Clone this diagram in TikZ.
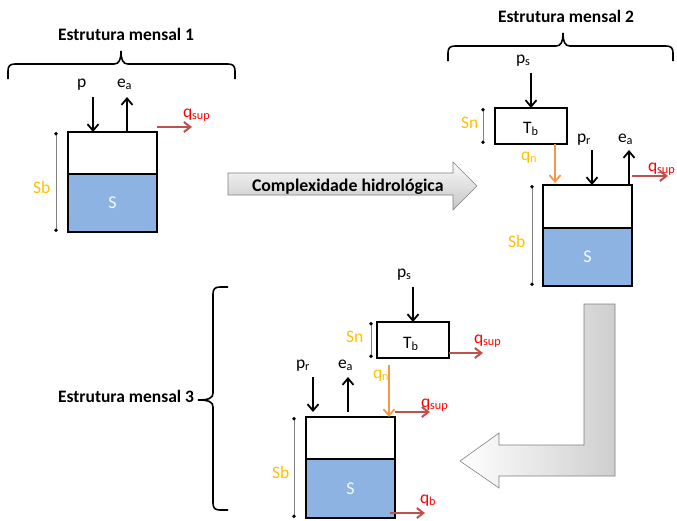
\documentclass[tikz,border=0pt]{standalone}
\usepackage{fontspec}
\setmainfont{Carlito}
\usetikzlibrary{arrows.meta}
\definecolor{lblue}{HTML}{8DB3E2}
\definecolor{orlab}{HTML}{FFC000}
\definecolor{orarr}{HTML}{F79646}
\definecolor{redarr}{HTML}{C0504D}
\definecolor{redlab}{HTML}{FF0000}
\definecolor{dimgray}{HTML}{808080}
\begin{document}
\begin{tikzpicture}[x=1pt,y=-1pt,
  every node/.style={inner sep=0pt, outer sep=0pt},
  lbl/.style={anchor=base west, font=\fontsize{17.5}{19}\selectfont},
  ttl/.style={anchor=base west, font=\bfseries\fontsize{17.5}{19}\selectfont},
  olbl/.style={lbl, text=orlab},
  rlbl/.style={lbl, text=redlab},
  topbox/.style={draw, line width=1.8pt, fill=white, anchor=north west, minimum width=89pt},
  sbox/.style={draw, line width=1.8pt, fill=lblue, anchor=north west, minimum width=89pt,
     font=\fontsize{18}{20}\selectfont, text=white!92!lblue},
  tbbox/.style={draw, line width=1.8pt, fill=white, anchor=north west, minimum width=72pt, minimum height=36pt},
  blk/.style={line width=1.8pt, -{Straight Barb[length=6.5pt,width=11pt,line width=1.8pt]}},
  oarr/.style={blk, draw=orarr},
  rarr/.style={line width=2pt, draw=redarr, -{Straight Barb[length=6.5pt,width=10pt,line width=2pt]}},
  dimline/.style={draw=dimgray, line width=0.8pt, {Circle[black,length=3.5pt]}-{Circle[black,length=3.5pt]}},
  brc/.style={draw, line width=1.6pt},
]
\useasboundingbox (0,0) rectangle (677,520);

% ---------------- Structure 1 ----------------
\node[ttl] (t1) at (58,40) {Estrutura mensal 1};
\coordinate (br1a) at (8,79); \coordinate (br1b) at (235,79);
\draw[brc] (br1a) -- (8,71) .. controls (8,66) and (10,64) .. (15,64) -- (114,64)
  .. controls (119,64) and (121,60) .. (121,51) .. controls (121,60) and (123,64) .. (128,64)
  -- (228,64) .. controls (233,64) and (235,66) .. (235,71) -- (br1b);
\node[topbox, minimum height=42pt] (u1) at (68,132) {};
\node[sbox, minimum height=58pt] (s1) at (68,174) {S};
\node[lbl] (p1) at (77,87) {p};
\node[lbl] (e1) at (117,87) {e\textsubscript{a}};
\node[rlbl] (q1) at (183,117) {q\textsubscript{sup}};
\node[olbl] (sb1) at (33,193) {Sb};
\coordinate (p1a) at (93,97); \coordinate (p1b) at (93,132);
\draw[blk] (p1a) -- (p1b);
\coordinate (e1a) at (127,132); \coordinate (e1b) at (127,97);
\draw[blk] (e1a) -- (e1b);
\coordinate (q1a) at (157,127); \coordinate (q1b) at (192,127);
\draw[rarr] (q1a) -- (q1b);
\coordinate (d1a) at (56,132); \coordinate (d1b) at (56,232);
\draw[dimline] (d1a) -- (d1b);

% ---------------- Arrow: complexidade ----------------
\coordinate (c1) at (228,173);
\shade[top color=gray!4, bottom color=gray!45, draw=gray, line width=0.6pt]
  (c1) -- (453,173) -- (453,162) -- (477,186) -- (453,210) -- (453,195) -- (228,195) -- cycle;
\node[ttl, font=\bfseries\fontsize{17.8}{19}\selectfont] (cx) at (252,191) {Complexidade hidrológica};

% ---------------- Structure 2 ----------------
\node[ttl] (t2) at (498,22) {Estrutura mensal 2};
\coordinate (br2a) at (448,61); \coordinate (br2b) at (673,61);
\draw[brc] (br2a) -- (448,53) .. controls (448,48) and (450,46) .. (455,46) -- (556,46)
  .. controls (561,46) and (563,42) .. (563,33) .. controls (563,42) and (565,46) .. (570,46)
  -- (666,46) .. controls (671,46) and (673,48) .. (673,53) -- (br2b);
\node[tbbox] (tb2) at (495,108) {};
\node[lbl] (tbl2) at (523,133) {T\textsubscript{b}};
\node[topbox, minimum height=43pt] (u2) at (543,185) {};
\node[sbox, minimum height=58pt] (s2) at (543,228) {S};
\node[lbl] (ps2) at (516,63) {p\textsubscript{s}};
\node[olbl] (sn2) at (461,128) {Sn};
\node[olbl] (qn2) at (521,160) {q\textsubscript{n}};
\node[lbl] (pr2) at (577,142) {p\textsubscript{r}};
\node[lbl] (e2) at (618,142) {e\textsubscript{a}};
\node[rlbl] (q2) at (648,171) {q\textsubscript{sup}};
\node[olbl] (sb2) at (508,247) {Sb};
\coordinate (ps2a) at (531,73); \coordinate (ps2b) at (531,108);
\draw[blk] (ps2a) -- (ps2b);
\coordinate (qn2a) at (555,144); \coordinate (qn2b) at (555,183);
\draw[oarr] (qn2a) -- (qn2b);
\coordinate (pr2a) at (592,150); \coordinate (pr2b) at (592,185);
\draw[blk] (pr2a) -- (pr2b);
\coordinate (e2a) at (629,185); \coordinate (e2b) at (629,150);
\draw[blk] (e2a) -- (e2b);
\coordinate (q2a) at (632,176); \coordinate (q2b) at (668,176);
\draw[rarr] (q2a) -- (q2b);
\coordinate (d2a) at (483,108); \coordinate (d2b) at (483,144);
\draw[dimline] (d2a) -- (d2b);
\coordinate (d3a) at (532,185); \coordinate (d3b) at (532,286);
\draw[dimline] (d3a) -- (d3b);

% ---------------- L arrow ----------------
\coordinate (l1) at (584,304);
\shade[left color=white, right color=gray!38, draw=gray, line width=0.6pt]
  (l1) -- (615,304) -- (615,476) -- (499,476) -- (499,488) -- (460,461) -- (499,433) -- (499,445) -- (584,445) -- cycle;

% ---------------- Structure 3 ----------------
\node[ttl] (t3) at (58,402) {Estrutura mensal 3};
\coordinate (br3a) at (228,287); \coordinate (br3b) at (228,510);
\draw[brc] (br3a) -- (220,287) .. controls (215,287) and (213,289) .. (213,294) -- (213,393)
  .. controls (213,398) and (209,400) .. (198,400) .. controls (209,400) and (213,402) .. (213,407)
  -- (213,503) .. controls (213,508) and (215,510) .. (220,510) -- (br3b);
\node[tbbox] (tb3) at (377,322) {};
\node[lbl] (tbl3) at (403,348) {T\textsubscript{b}};
\node[topbox, minimum height=42pt] (u3) at (306,417) {};
\node[sbox, minimum height=59pt] (s3) at (306,459) {S};
\node[lbl] (ps3) at (397,277) {p\textsubscript{s}};
\node[olbl] (sn3) at (346,342) {Sn};
\node[rlbl] (q3a) at (474,343) {q\textsubscript{sup}};
\node[olbl] (qn3) at (373,378) {q\textsubscript{n}};
\node[rlbl] (q3b) at (421,407) {q\textsubscript{sup}};
\node[lbl] (pr3) at (296,368) {p\textsubscript{r}};
\node[lbl] (e3) at (338,368) {e\textsubscript{a}};
\node[olbl] (sb3) at (272,478) {Sb};
\node[rlbl] (qb3) at (420,503) {q\textsubscript{b}};
\coordinate (ps3a) at (413,287); \coordinate (ps3b) at (413,322);
\draw[blk] (ps3a) -- (ps3b);
\coordinate (qt3a) at (449,353); \coordinate (qt3b) at (483,353);
\draw[rarr] (qt3a) -- (qt3b);
\coordinate (qn3a) at (389,365); \coordinate (qn3b) at (389,417);
\draw[oarr] (qn3a) -- (qn3b);
\coordinate (qs3a) at (395,412); \coordinate (qs3b) at (430,412);
\draw[rarr] (qs3a) -- (qs3b);
\coordinate (pr3a) at (313,377); \coordinate (pr3b) at (313,412);
\draw[blk] (pr3a) -- (pr3b);
\coordinate (e3a) at (348,412); \coordinate (e3b) at (348,377);
\draw[blk] (e3a) -- (e3b);
\coordinate (qb3a) at (390,513); \coordinate (qb3b) at (425,513);
\draw[rarr] (qb3a) -- (qb3b);
\coordinate (d4a) at (371,322); \coordinate (d4b) at (371,358);
\draw[dimline] (d4a) -- (d4b);
\coordinate (d5a) at (294,417); \coordinate (d5b) at (294,518);
\draw[dimline] (d5a) -- (d5b);
\end{tikzpicture}
\end{document}
